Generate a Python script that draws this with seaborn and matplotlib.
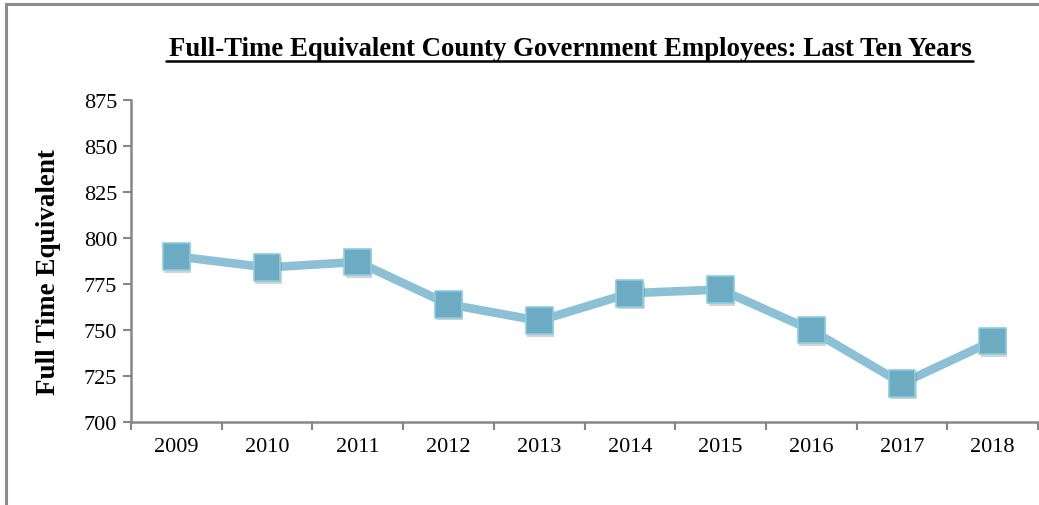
import numpy as np
import pandas as pd
import matplotlib
matplotlib.use("Agg")
import matplotlib.pyplot as plt
import matplotlib.patheffects as pe
from matplotlib.patches import Rectangle
import seaborn as sns

# values
years = ["2009", "2010", "2011", "2012", "2013", "2014", "2015", "2016", "2017", "2018"]
fte = [790, 784, 787, 764, 755, 770, 772, 750, 721, 744]
y_ticks = [700, 725, 750, 775, 800, 825, 850, 875]

sns.set_theme(style="white")
plt.rcParams["font.family"] = ["Liberation Serif", "DejaVu Serif"]
plt.rcParams["text.color"] = "black"
plt.rcParams["xtick.color"] = "black"
plt.rcParams["ytick.color"] = "black"
plt.rcParams["axes.labelcolor"] = "black"

df = pd.DataFrame({"pos": np.arange(len(years)), "year": years, "fte": fte})

fig = plt.figure(figsize=(10.39, 5.06), dpi=100)
ax = fig.add_axes([131 / 1039, 1 - 423 / 506, 907 / 1039, 322 / 506])

line_col = "#8cc0d4"
sns.lineplot(data=df, x="pos", y="fte", ax=ax, color=line_col, linewidth=6.2,
             solid_capstyle="round", solid_joinstyle="round")
sns.scatterplot(data=df, x="pos", y="fte", ax=ax, marker="s", s=370,
                color="#6dabc2", edgecolor="#8ccbe0", linewidth=1.2, zorder=3,
                path_effects=[pe.SimplePatchShadow(offset=(1, -2), alpha=0.25, shadow_rgbFace="#555555"),
                              pe.Normal()])

ax.set_xlim(-0.5, len(years) - 0.5)
ax.set_ylim(700, 875)
ax.set_yticks(y_ticks)
ax.set_yticklabels([str(t) for t in y_ticks], fontsize=16)

# category labels in the middle, tick marks on the boundaries
ax.set_xticks(np.arange(-0.5, len(years)), labels=[""] * (len(years) + 1))
ax.set_xticks(np.arange(len(years)), labels=years, minor=True)
ax.tick_params(axis="x", which="minor", length=0, labelsize=16, pad=11)
ax.tick_params(axis="x", which="major", length=6, width=1.5, color="#868686", direction="out")
ax.tick_params(axis="y", length=6, width=1.5, color="#868686", direction="out", pad=4)
ax.tick_params(bottom=True, left=True)

for s in ["top", "right"]:
    ax.spines[s].set_visible(False)
for s in ["left", "bottom"]:
    ax.spines[s].set_color("#868686")
    ax.spines[s].set_linewidth(1.8)

ax.set_xlabel("")
ax.set_ylabel("Full Time Equivalent", fontsize=19.5, fontweight="bold")
ax.yaxis.set_label_coords(-0.077, 0.469)

fig.text(570 / 1039, 1 - 50 / 506, "Full-Time Equivalent County Government Employees: Last Ten Years",
         ha="center", va="center", fontsize=19.3, fontweight="bold")
# underline of the title
fig.add_artist(plt.Line2D([166 / 1039, 973 / 1039], [1 - 62 / 506, 1 - 62 / 506],
                          color="black", linewidth=1.8, transform=fig.transFigure))

# outer frame of the chart box (cut at right and bottom)
fig.add_artist(Rectangle((6 / 1039, -0.05), 1.2, 1 - 4.5 / 506 + 0.05, transform=fig.transFigure,
                         fill=False, edgecolor="#8c8c8c", linewidth=2.2))

fig.savefig("out.png", dpi=100)
